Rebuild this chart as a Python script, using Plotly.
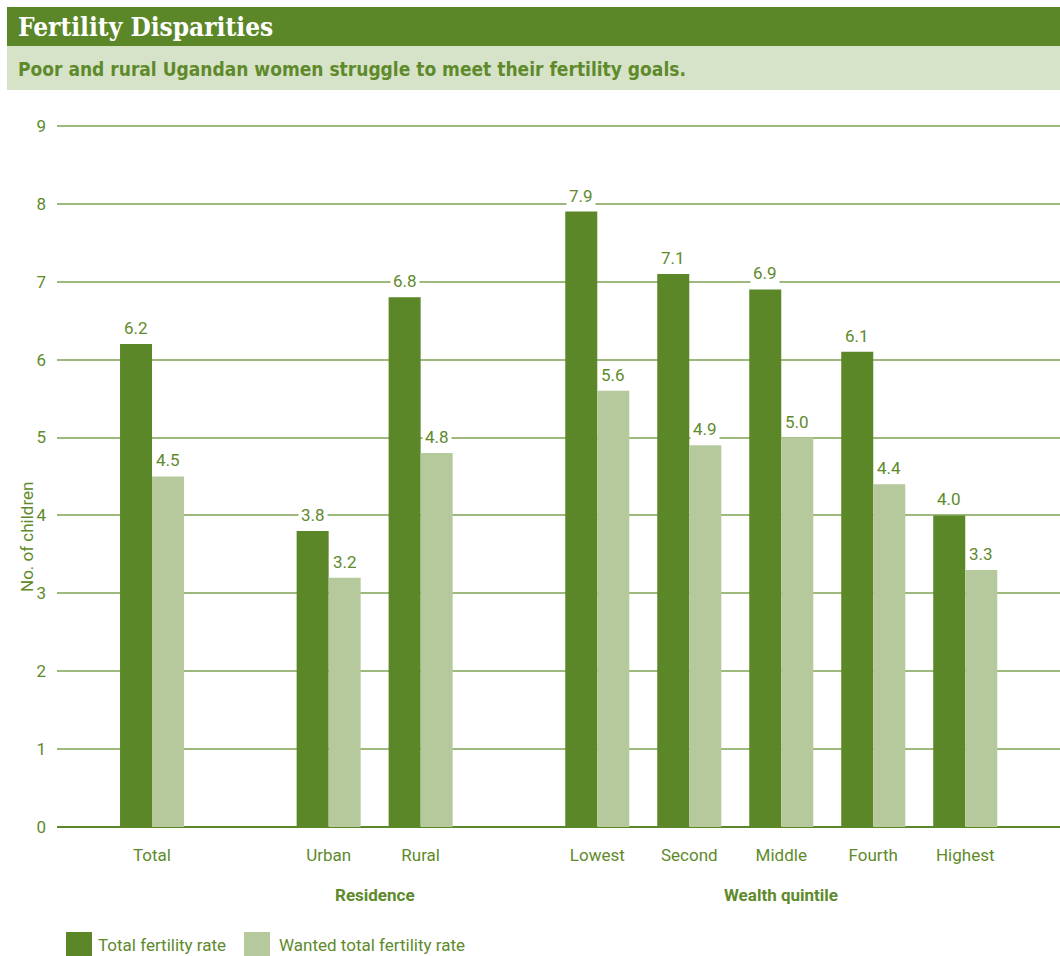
import plotly.graph_objects as go

categories = ["Total", "Urban", "Rural", "Lowest", "Second", "Middle", "Fourth", "Highest"]
groups = [0, 1, 1, 2, 2, 2, 2, 2]
group_labels = {1: "Residence", 2: "Wealth quintile"}
tfr = [6.2, 3.8, 6.8, 7.9, 7.1, 6.9, 6.1, 4.0]
wanted = [4.5, 3.2, 4.8, 5.6, 4.9, 5.0, 4.4, 3.3]
series_names = ["Total fertility rate", "Wanted total fertility rate"]
y_ticks = list(range(0, 10))

DARK = "#5b8728"
LIGHT = "#b6c99c"
TXT = "#5e8a2c"
GRID = "#9dba7c"
FONT = "Liberation Sans Narrow, Roboto, Arial Narrow, sans-serif"

GAP = 0.92
xpos = [i + GAP * g for i, g in enumerate(groups)]

W, H = 1060, 956
pl, pt, pb = 57, 122, 129
ph = H - pt - pb
pw = W - pl


def px_x(x):
    return (x - pl) / pw


def px_y(y):
    return (H - pb - y) / ph


fig = go.Figure()
fig.add_trace(go.Bar(x=xpos, y=tfr, name=series_names[0], marker_color=DARK,
                     marker_line_width=0, showlegend=False))
fig.add_trace(go.Bar(x=xpos, y=wanted, name=series_names[1], marker_color=LIGHT,
                     marker_line_width=0, showlegend=False))

annotations = []
half = 0.174
for x, a, b in zip(xpos, tfr, wanted):
    for off, v in ((-half, a), (half, b)):
        annotations.append(dict(x=x + off, y=v, xref="x", yref="y", text=f"{v:.1f}",
                                showarrow=False, yanchor="bottom", yshift=3,
                                bgcolor="white", borderpad=2,
                                font=dict(family=FONT, size=17, color=TXT)))

for g, lab in group_labels.items():
    xs = [x for x, gg in zip(xpos, groups) if gg == g]
    annotations.append(dict(x=(min(xs) + max(xs)) / 2, y=px_y(895), xref="x", yref="paper",
                            text=f"<b>{lab}</b>", showarrow=False, yanchor="middle",
                            font=dict(family=FONT, size=17, color=TXT)))

annotations.append(dict(x=px_x(15), y=px_y(537), xref="paper", yref="paper",
                        text="No. of children", showarrow=False, textangle=-90,
                        font=dict(family=FONT, size=17, color=TXT)))

shapes = [
    dict(type="rect", xref="paper", yref="paper", x0=px_x(7), x1=px_x(1060),
         y0=px_y(46), y1=px_y(7), fillcolor=DARK, line_width=0, layer="above"),
    dict(type="rect", xref="paper", yref="paper", x0=px_x(7), x1=px_x(1060),
         y0=px_y(90), y1=px_y(46), fillcolor="#d7e3c9", line_width=0, layer="above"),
    dict(type="rect", xref="paper", yref="paper", x0=px_x(66), x1=px_x(92),
         y0=px_y(956), y1=px_y(932), fillcolor=DARK, line_width=0),
    dict(type="rect", xref="paper", yref="paper", x0=px_x(244), x1=px_x(270),
         y0=px_y(956), y1=px_y(932), fillcolor=LIGHT, line_width=0),
]
annotations += [
    dict(x=px_x(16), y=px_y(27), xref="paper", yref="paper", text="<b>Fertility Disparities</b>",
         showarrow=False, xanchor="left", yanchor="middle",
         font=dict(family="DejaVu Serif Condensed, DejaVu Serif, serif", size=26, color="white")),
    dict(x=px_x(16), y=px_y(69), xref="paper", yref="paper",
         text="<b>Poor and rural Ugandan women struggle to meet their fertility goals.</b>",
         showarrow=False, xanchor="left", yanchor="middle",
         font=dict(family="DejaVu Sans Condensed, DejaVu Sans, sans-serif", size=19, color=TXT)),
    dict(x=px_x(96), y=px_y(945), xref="paper", yref="paper", text=series_names[0],
         showarrow=False, xanchor="left", yanchor="middle",
         font=dict(family=FONT, size=17, color=TXT)),
    dict(x=px_x(277), y=px_y(945), xref="paper", yref="paper", text=series_names[1],
         showarrow=False, xanchor="left", yanchor="middle",
         font=dict(family=FONT, size=17, color=TXT)),
]

fig.update_layout(
    width=W, height=H,
    margin=dict(l=pl, r=0, t=pt, b=pb),
    plot_bgcolor="white", paper_bgcolor="white",
    barmode="group", bargap=0.304, bargroupgap=0,
    xaxis=dict(range=[-1.033, 9.87], tickvals=xpos, ticktext=categories,
               showgrid=False, zeroline=False, showline=False, ticks="",
               ticklabelstandoff=16,
               tickfont=dict(family=FONT, size=17, color=TXT)),
    yaxis=dict(range=[0, 9.05], tickvals=y_ticks, showgrid=True, gridcolor=GRID, gridwidth=1.5,
               zeroline=True, zerolinecolor=DARK, zerolinewidth=2, showline=False,
               ticks="", ticklabelstandoff=10,
               tickfont=dict(family=FONT, size=17, color=TXT)),
    font=dict(family=FONT),
    shapes=shapes,
    annotations=annotations,
)

fig.write_html("out.html", config={"displayModeBar": False},
               post_script="document.body.style.margin='0';document.body.style.overflow='hidden';")
